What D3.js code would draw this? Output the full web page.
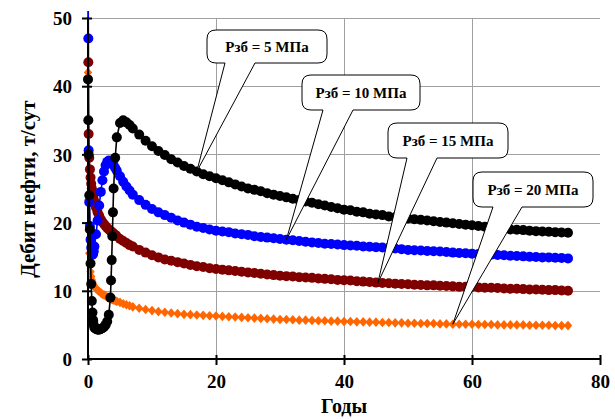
<!DOCTYPE html>
<html>
<head>
<meta charset="utf-8">
<script src="https://cdn.jsdelivr.net/npm/d3@7/dist/d3.min.js"></script>
<style>
  html, body { margin: 0; padding: 0; background: #fff; }
  svg { display: block; }
</style>
</head>
<body>
<svg id="chart" width="615" height="419"></svg>
<script>
// ---------------- DATA ----------------
const years = [0, 0.05, 0.1, 0.2, 0.3, 0.4, 0.5, 0.6, 0.7, 0.8, 0.9, 1, 1.25, 1.5, 1.75, 2, 2.25, 2.5, 2.75, 3,
  3.25, 3.5, 3.6, 3.7, 3.8, 3.9, 4, 4.25, 4.5, 5, 5.5, 6, 6.5, 7, 8, 9, 10,
  11, 12, 13, 14, 15, 16, 17, 18, 19, 20, 21, 22, 23, 24, 25, 26, 27, 28, 29, 30,
  31, 32, 33, 34, 35, 36, 37, 38, 39, 40, 41, 42, 43, 44, 45, 46, 47, 48, 49, 50,
  51, 52, 53, 54, 55, 56, 57, 58, 59, 60, 61, 62, 63, 64, 65, 66, 67, 68, 69, 70,
  71, 72, 73, 74, 75];

// Рзб = 5 МПа
const rate5 = [41, 35, 30, 24, 19, 14, 11, 8.5, 6.8, 5.7, 5.0, 4.6, 4.4, 4.3, 4.3, 4.4, 4.5, 4.7, 5.0, 5.5,
  6.5, 9, 11.5, 14.5, 18, 21.5, 25, 29.5, 32.5, 34.6, 35, 34.7, 34.3, 33.8, 32.9, 32, 31.2,
  30.5, 29.9, 29.3, 28.8, 28.3, 27.9, 27.5, 27.1, 26.8, 26.5, 26.2, 25.9, 25.6, 25.3, 25.0, 24.8, 24.6, 24.3, 24.1, 23.9,
  23.7, 23.5, 23.3, 23.1, 22.9, 22.7, 22.5, 22.3, 22.1, 21.9, 21.8, 21.6, 21.5, 21.3, 21.2, 21.1, 20.9, 20.8, 20.7, 20.6,
  20.5, 20.4, 20.3, 20.2, 20.1, 20.0, 19.9, 19.8, 19.7, 19.6, 19.5, 19.4, 19.3, 19.2, 19.1, 19.0, 18.95, 18.9, 18.8, 18.75,
  18.7, 18.65, 18.6, 18.55, 18.5];

// Рзб = 10 МПа
const rate10 = [65, 47, 30.6, 23, 19.5, 17.5, 16.3, 15.6, 15.3, 15.4, 15.8, 16.5, 18.3, 20.3, 22.5, 24.5, 26.2, 27.5, 28.4, 28.9,
  29.1, 29.0, 28.9, 28.8, 28.7, 28.6, 28.4, 28.0, 27.6, 26.8, 26.0, 25.3, 24.7, 24.1, 23.3, 22.6, 22.0,
  21.5, 21.1, 20.7, 20.3, 20.0, 19.7, 19.4, 19.2, 19.0, 18.8, 18.7, 18.6, 18.4, 18.3, 18.2, 18.0, 17.9, 17.8, 17.7, 17.6,
  17.5, 17.4, 17.3, 17.2, 17.1, 17.0, 16.9, 16.85, 16.8, 16.7, 16.65, 16.6, 16.5, 16.45, 16.4, 16.35, 16.3, 16.2, 16.1, 16.0,
  15.95, 15.9, 15.85, 15.8, 15.75, 15.7, 15.6, 15.55, 15.5, 15.45, 15.4, 15.35, 15.3, 15.25, 15.2, 15.15, 15.1, 15.05, 15.0, 14.95,
  14.9, 14.9, 14.85, 14.8, 14.75];

// Рзб = 15 МПа
const rate15 = [65, 43.5, 33, 29.5, 27.8, 26.6, 25.7, 25.0, 24.4, 23.9, 23.4, 23.0, 22.2, 21.5, 21.0, 20.5, 20.1, 19.8, 19.5, 19.2,
  19.0, 18.8, 18.7, 18.6, 18.5, 18.45, 18.4, 18.2, 18.0, 17.6, 17.3, 17.0, 16.7, 16.5, 16.0, 15.6, 15.2,
  14.9, 14.6, 14.4, 14.2, 14.0, 13.8, 13.6, 13.5, 13.3, 13.2, 13.1, 13.0, 12.9, 12.8, 12.7, 12.6, 12.5, 12.4, 12.3, 12.2,
  12.15, 12.1, 12.0, 11.95, 11.9, 11.8, 11.75, 11.7, 11.6, 11.55, 11.5, 11.4, 11.35, 11.3, 11.2, 11.15, 11.1, 11.05, 11.0, 10.95,
  10.9, 10.85, 10.8, 10.8, 10.75, 10.7, 10.65, 10.6, 10.6, 10.55, 10.5, 10.45, 10.45, 10.4, 10.35, 10.3, 10.3, 10.25, 10.2, 10.2,
  10.15, 10.1, 10.1, 10.05, 10.0];

// Рзб = 20 МПа
const rate20 = [42, 23.3, 18.9, 15.5, 13.8, 12.8, 12.1, 11.6, 11.3, 11.0, 10.8, 10.6, 10.3, 10.1, 9.9, 9.7, 9.5, 9.4, 9.25, 9.1,
  9.0, 8.9, 8.85, 8.8, 8.75, 8.7, 8.65, 8.55, 8.45, 8.3, 8.1, 7.95, 7.8, 7.65, 7.45, 7.25, 7.1,
  6.95, 6.85, 6.75, 6.65, 6.55, 6.5, 6.45, 6.4, 6.35, 6.3, 6.25, 6.2, 6.15, 6.1, 6.05, 6.0, 5.95, 5.9, 5.85, 5.8,
  5.8, 5.75, 5.7, 5.7, 5.65, 5.6, 5.6, 5.55, 5.55, 5.5, 5.5, 5.45, 5.45, 5.4, 5.4, 5.35, 5.35, 5.3, 5.3, 5.25,
  5.25, 5.2, 5.2, 5.2, 5.15, 5.15, 5.1, 5.1, 5.1, 5.1, 5.05, 5.05, 5.05, 5.0, 5.0, 5.0, 5.0, 5.0, 4.95, 4.95,
  4.95, 4.95, 4.9, 4.9, 4.9];

const xTicks = [0, 20, 40, 60, 80];
const yTicks = [0, 10, 20, 30, 40, 50];
const seriesLabels = ["Рзб = 5 МПа", "Рзб = 10 МПа", "Рзб = 15 МПа", "Рзб = 20 МПа"];
const calloutYears = [17, 31, 45.3, 57];   // where each callout points on its curve
const xTitle = "Годы";
const yTitle = "Дебит нефти, т/сут";

// ---------------- STYLE / LAYOUT ----------------
const W = 615, H = 419;
const plot = { left: 88, right: 600, top: 18, bottom: 359 };
const font = "'Liberation Serif', 'Times New Roman', serif";

const series = [
  { values: rate20, color: "#FF6600", shape: "diamond", label: seriesLabels[3], cy: calloutYears[3],
    box: [473, 172, 593, 207], base: [493, 522] },
  { values: rate15, color: "#800000", shape: "circle", label: seriesLabels[2], cy: calloutYears[2],
    box: [388, 123, 508, 158], base: [407, 437] },
  { values: rate10, color: "#0000FF", shape: "circle", label: seriesLabels[1], cy: calloutYears[1],
    box: [302, 75, 420, 110], base: [323, 353] },
  { values: rate5, color: "#000000", shape: "circle", label: seriesLabels[0], cy: calloutYears[0],
    box: [207, 30, 327, 63], base: [225, 255] }
];

const svg = d3.select("#chart");
svg.append("rect").attr("width", W).attr("height", H).attr("fill", "#fff");

const x = d3.scaleLinear().domain([0, 80]).range([plot.left, plot.right]);
const y = d3.scaleLinear().domain([0, 50]).range([plot.bottom, plot.top]);

// gridlines
const grid = svg.append("g").attr("stroke", "#a0a0a0").attr("stroke-width", 1);
grid.selectAll("line.h").data(yTicks.filter(d => d > 0)).join("line")
  .attr("x1", plot.left).attr("x2", plot.right)
  .attr("y1", d => Math.round(y(d)) + 0.5).attr("y2", d => Math.round(y(d)) + 0.5);
grid.selectAll("line.v").data(xTicks.filter(d => d > 0 && d < 80)).join("line")
  .attr("y1", plot.top).attr("y2", plot.bottom)
  .attr("x1", d => Math.round(x(d)) + 0.5).attr("x2", d => Math.round(x(d)) + 0.5);

// clip for data
svg.append("defs").append("clipPath").attr("id", "clip")
  .append("rect").attr("x", 78).attr("y", 11).attr("width", 530).attr("height", 360);

const dataG = svg.append("g").attr("clip-path", "url(#clip)");
const line = d3.line().x((d, i) => x(years[i])).y(d => y(d));

series.forEach(s => {
  const g = dataG.append("g");
  g.append("path").attr("d", line(s.values)).attr("fill", "none")
    .attr("stroke", s.color).attr("stroke-width", 1.6);
  const pts = s.values.map((v, i) => [years[i], v]).filter(p => p[1] <= 52);
  if (s.shape === "circle") {
    g.selectAll("circle").data(pts).join("circle")
      .attr("cx", d => x(d[0])).attr("cy", d => y(d[1])).attr("r", 5)
      .attr("fill", s.color);
  } else {
    g.selectAll("path.m").data(pts).join("path").attr("class", "m")
      .attr("d", d => {
        const cx = x(d[0]), cy = y(d[1]);
        return `M${cx},${cy - 4.8}L${cx + 4.2},${cy}L${cx},${cy + 4.8}L${cx - 4.2},${cy}Z`;
      })
      .attr("fill", s.color);
  }
});

// axes
const axisG = svg.append("g");
axisG.append("line").attr("x1", plot.left).attr("x2", plot.left)
  .attr("y1", plot.top - 1).attr("y2", plot.bottom + 1)
  .attr("stroke", "#000").attr("stroke-width", 2);
axisG.append("line").attr("x1", plot.left - 1).attr("x2", plot.right + 1)
  .attr("y1", plot.bottom).attr("y2", plot.bottom)
  .attr("stroke", "#000").attr("stroke-width", 2.2);

const yAxis = d3.axisLeft(y).tickValues(yTicks).tickSize(0).tickPadding(16);
const gy = svg.append("g").attr("transform", `translate(${plot.left},0)`).call(yAxis);
gy.select(".domain").remove();
gy.selectAll(".tick text").attr("font-family", font).attr("font-weight", "bold")
  .attr("font-size", 19).attr("fill", "#000").attr("dy", "0.35em");
gy.selectAll(".tick").append("line").attr("x1", -6).attr("x2", 4)
  .attr("stroke", "#000").attr("stroke-width", 2);

const xAxis = d3.axisBottom(x).tickValues(xTicks).tickSize(0).tickPadding(16);
const gx = svg.append("g").attr("transform", `translate(0,${plot.bottom})`).call(xAxis);
gx.select(".domain").remove();
gx.selectAll(".tick text").attr("font-family", font).attr("font-weight", "bold")
  .attr("font-size", 19).attr("fill", "#000").attr("dy", "0.71em");
gx.selectAll(".tick").append("line").attr("y1", -4).attr("y2", 6)
  .attr("stroke", "#000").attr("stroke-width", 2);

// titles
svg.append("text").attr("x", 344).attr("y", 413).attr("text-anchor", "middle")
  .attr("font-family", font).attr("font-weight", "bold").attr("font-size", 20)
  .text(xTitle);
svg.append("text").attr("transform", "translate(35,189) rotate(-90)").attr("text-anchor", "middle")
  .attr("font-family", font).attr("font-weight", "bold").attr("font-size", 21)
  .text(yTitle);

// callouts
function calloutPath(b, base, tx, ty) {
  const [x0, y0, x1, y1] = b, r = 9;
  return `M${x0 + r},${y0} H${x1 - r} Q${x1},${y0} ${x1},${y0 + r} V${y1 - r} Q${x1},${y1} ${x1 - r},${y1}` +
    ` H${base[1]} L${tx},${ty} L${base[0]},${y1} H${x0 + r} Q${x0},${y1} ${x0},${y1 - r} V${y0 + r} Q${x0},${y0} ${x0 + r},${y0} Z`;
}
const callG = svg.append("g");
series.slice().reverse().forEach(s => {
  const i = years.indexOf(Math.floor(s.cy));
  const v = s.values[i] + (s.values[i + 1] - s.values[i]) * (s.cy - years[i]);
  const tx = x(s.cy), ty = y(v);
  callG.append("path").attr("d", calloutPath(s.box, s.base, tx, ty))
    .attr("fill", "#fff").attr("stroke", "#000").attr("stroke-width", 1);
  callG.append("text").attr("x", (s.box[0] + s.box[2]) / 2).attr("y", (s.box[1] + s.box[3]) / 2 + 5)
    .attr("text-anchor", "middle").attr("font-family", font).attr("font-weight", "bold")
    .attr("font-size", 15).text(s.label);
});
</script>
</body>
</html>
